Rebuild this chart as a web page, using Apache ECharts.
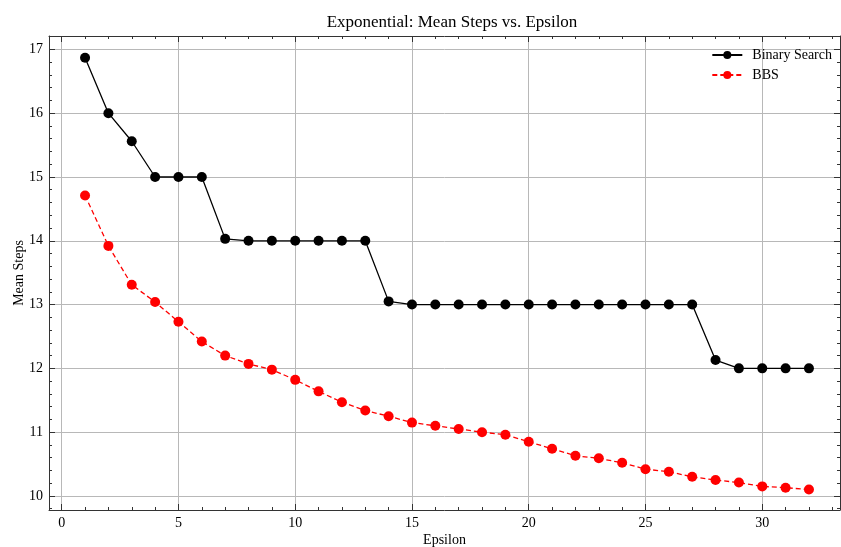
<!DOCTYPE html>
<html>
<head>
<meta charset="utf-8">
<script src="https://cdn.jsdelivr.net/npm/echarts@6/dist/echarts.min.js"></script>
<style>html,body{margin:0;padding:0;background:#fff;}#c{width:841px;height:547px;}</style>
</head>
<body>
<div id="c"></div>
<script>
const epsilon = [1,2,3,4,5,6,7,8,9,10,11,12,13,14,15,16,17,18,19,20,21,22,23,24,25,26,27,28,29,30,31,32];
const binarySearch = [16.87,16.0,15.56,15.0,15.0,15.0,14.03,14.0,14.0,14.0,14.0,14.0,14.0,13.05,13.0,13.0,13.0,13.0,13.0,13.0,13.0,13.0,13.0,13.0,13.0,13.0,13.0,12.13,12.0,12.0,12.0,12.0];
const bbs = [14.71,13.92,13.31,13.04,12.73,12.42,12.20,12.07,11.98,11.82,11.64,11.47,11.34,11.25,11.15,11.10,11.05,11.00,10.96,10.85,10.74,10.63,10.59,10.52,10.42,10.38,10.30,10.25,10.21,10.15,10.13,10.10];
const xMajorTicks = [0,5,10,15,20,25,30];
const xMinorTicks = [1,2,3,4,6,7,8,9,11,12,13,14,16,17,18,19,21,22,23,24,26,27,28,29,31,32,33];
const yMajorTicks = [10,11,12,13,14,15,16,17];
const yMinorTicks = [9.8,10.2,10.4,10.6,10.8,11.2,11.4,11.6,11.8,12.2,12.4,12.6,12.8,13.2,13.4,13.6,13.8,14.2,14.4,14.6,14.8,15.2,15.4,15.6,15.8,16.2,16.4,16.6,16.8,17.2];

const FONT = '"Liberation Serif","DejaVu Serif",serif';
const XMIN = -0.544, XMAX = 33.33, YMIN = 9.78, YMAX = 17.21;
const axisColor = '#333';

function xAx(pos, ticks, len, opts) {
  return Object.assign({
    type: 'value', position: pos, offset: 0, min: XMIN, max: XMAX, splitNumber: 7,
    axisLine: { show: true, onZero: false, lineStyle: { color: axisColor, width: 1 } },
    axisTick: { show: true, inside: true, length: len, customValues: ticks, lineStyle: { color: axisColor, width: 1 } },
    axisLabel: { show: false },
    splitLine: { show: false }
  }, opts || {});
}
function yAx(pos, ticks, len, opts) {
  return Object.assign({
    type: 'value', position: pos, offset: 0, min: YMIN, max: YMAX, splitNumber: 7,
    axisLine: { show: true, onZero: false, lineStyle: { color: axisColor, width: 1 } },
    axisTick: { show: true, inside: true, length: len, customValues: ticks, lineStyle: { color: axisColor, width: 1 } },
    axisLabel: { show: false },
    splitLine: { show: false }
  }, opts || {});
}
const noLine = { axisLine: { show: false, onZero: false } };

const chart = echarts.init(document.getElementById('c'), null, { renderer: 'canvas' });
chart.setOption({
  backgroundColor: '#fff',
  animation: false,
  title: {
    text: 'Exponential: Mean Steps vs. Epsilon',
    left: 447, top: 9, textAlign: 'center',
    textStyle: { fontFamily: FONT, fontSize: 17, fontWeight: 'normal', color: '#000' }
  },
  legend: {
    orient: 'vertical', right: 4, top: 43,
    itemWidth: 30, itemHeight: 10, itemGap: 6,
    textStyle: { fontFamily: FONT, fontSize: 14, color: '#000', padding: [0, 0, 0, 5] },
    data: ['Binary Search', 'BBS']
  },
  grid: { left: 49, right: 1, top: 36, bottom: 37, containLabel: false, outerBoundsMode: 'none' },
  xAxis: [
    xAx('bottom', xMajorTicks, 6, {
      name: 'Epsilon', nameLocation: 'middle', nameGap: 23, nameMoveOverlap: false,
      nameTextStyle: { fontFamily: FONT, fontSize: 14, color: '#000' },
      axisLabel: { show: true, customValues: xMajorTicks, margin: 6, fontFamily: FONT, fontSize: 14, color: '#000' },
      splitLine: { show: true, lineStyle: { color: '#b8b8b8', width: 1 } }
    }),
    xAx('bottom', xMinorTicks, 3, noLine),
    xAx('top', xMajorTicks, 6),
    xAx('top', xMinorTicks, 3, noLine)
  ],
  yAxis: [
    yAx('left', yMajorTicks, 6, {
      name: 'Mean Steps', nameLocation: 'middle', nameGap: 23, nameRotate: 90, nameMoveOverlap: false,
      nameTextStyle: { fontFamily: FONT, fontSize: 14, color: '#000' },
      axisLabel: { show: true, customValues: yMajorTicks, margin: 6, fontFamily: FONT, fontSize: 14, color: '#000' },
      splitLine: { show: true, lineStyle: { color: '#b8b8b8', width: 1 } }
    }),
    yAx('left', yMinorTicks, 3, noLine),
    yAx('right', yMajorTicks, 6),
    yAx('right', yMinorTicks, 3, noLine)
  ],
  series: [
    {
      name: 'Binary Search', type: 'line', xAxisIndex: 0, yAxisIndex: 0,
      data: epsilon.map((e, i) => [e, binarySearch[i]]),
      symbol: 'circle', symbolSize: 10,
      lineStyle: { color: '#000', width: 1.3 },
      itemStyle: { color: '#000' },
      z: 3
    },
    {
      name: 'BBS', type: 'line', xAxisIndex: 0, yAxisIndex: 0,
      data: epsilon.map((e, i) => [e, bbs[i]]),
      symbol: 'circle', symbolSize: 10,
      lineStyle: { color: '#ff0000', width: 1.3, type: [5, 3] },
      itemStyle: { color: '#ff0000' },
      z: 3
    }
  ]
});
</script>
</body>
</html>
